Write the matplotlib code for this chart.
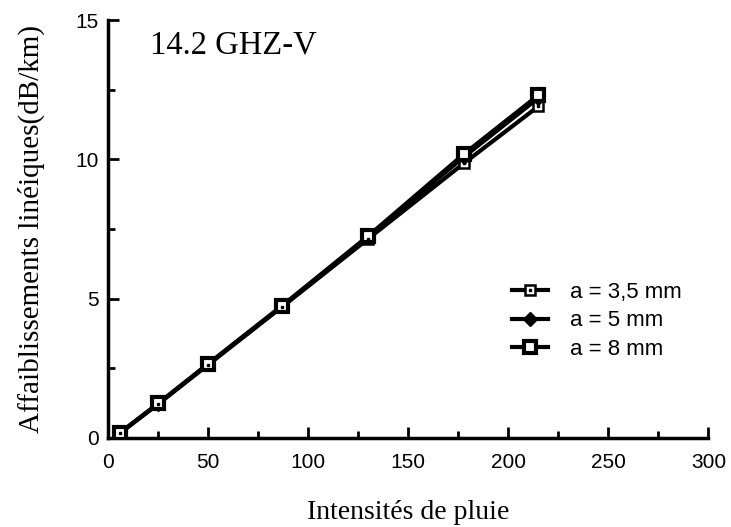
import matplotlib
matplotlib.use("Agg")
import matplotlib.pyplot as plt
from matplotlib.legend_handler import HandlerTuple
from matplotlib.ticker import MultipleLocator

# intensité de pluie (mm/h) et affaiblissement (dB/km), 14.2 GHz polarisation V
intensite = [6, 25, 50, 87, 130, 178, 215]
att_a35 = [0.18, 1.22, 2.63, 4.71, 7.15, 9.87, 11.9]
att_a5 = [0.18, 1.23, 2.65, 4.73, 7.22, 10.1, 12.2]
att_a8 = [0.19, 1.24, 2.66, 4.75, 7.25, 10.2, 12.3]
labels = ["a = 3,5 mm", "a = 5 mm", "a = 8 mm"]

serif = "Liberation Serif"
sans = "Liberation Sans"

fig = plt.figure(figsize=(7.31, 5.27), dpi=100)
ax = fig.add_axes([0.148, 0.169, 0.821, 0.793])

l35, = ax.plot(intensite, att_a35, color="k", lw=3, marker="s", ms=7,
               mfc="white", mec="k", mew=1.8, zorder=3)
d35, = ax.plot(intensite, att_a35, ls="none", marker="s", ms=2,
               mfc="k", mec="k", zorder=4)
l5, = ax.plot(intensite, att_a5, color="k", lw=3, marker="D", ms=7,
              mfc="k", mec="k", zorder=3)
l8, = ax.plot(intensite, att_a8, color="k", lw=3, marker="s", ms=8,
              mfc="white", mec="k", mew=3, zorder=3)

ax.set_xlim(0, 300)
ax.set_ylim(0, 15)
ax.xaxis.set_major_locator(MultipleLocator(50))
ax.xaxis.set_minor_locator(MultipleLocator(25))
ax.yaxis.set_major_locator(MultipleLocator(5))
ax.yaxis.set_minor_locator(MultipleLocator(2.5))

for s in ["top", "right"]:
    ax.spines[s].set_visible(False)
for s in ["left", "bottom"]:
    ax.spines[s].set_linewidth(2.5)
ax.tick_params(which="major", direction="in", length=8, width=2,
               labelsize=15, pad=7)
ax.tick_params(axis="x", which="major", pad=11)
ax.tick_params(which="minor", direction="in", length=5, width=2)
for lab in ax.get_xticklabels() + ax.get_yticklabels():
    lab.set_fontfamily(sans)

ax.set_xlabel("Intensités de pluie", fontfamily=serif, fontsize=20, labelpad=20)
ax.set_ylabel("Affaiblissements linéiques(dB/km)", fontfamily=serif,
              fontsize=21, labelpad=22)
ax.text(0.07, 0.94, "14.2 GHZ-V", transform=ax.transAxes, fontfamily=serif,
        fontsize=23.5, va="center")

ax.legend([(l35, d35), l5, l8], labels, handler_map={tuple: HandlerTuple(ndivide=1)},
          loc="center left", bbox_to_anchor=(0.64, 0.28), frameon=False,
          prop={"family": sans, "size": 16}, handlelength=1.6, numpoints=1,
          labelspacing=0.35, handletextpad=1.0)

fig.savefig("out.png", dpi=100)
